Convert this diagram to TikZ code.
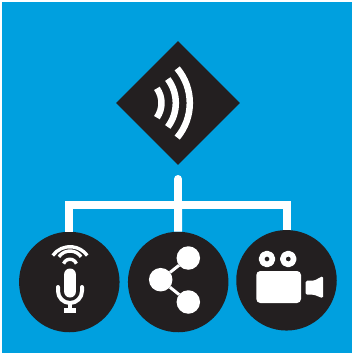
\documentclass[tikz,border=0pt]{standalone}
\usetikzlibrary{shapes.geometric}
\definecolor{skyblue}{HTML}{00A0DF}
\definecolor{inkdark}{HTML}{231F20}
\tikzset{
  disc/.style={circle,fill=inkdark,minimum size=100.5mm,inner sep=0pt},
  wire/.style={draw=white,line width=8mm,line join=miter},
  band/.style={draw=white,line width=6.5mm},
  thinband/.style={draw=white,line width=3.4mm},
  dot/.style={circle,fill=white,minimum size=23.5mm,inner sep=0pt},
  eye/.style={circle,fill=inkdark,draw=white,line width=5.6mm,minimum size=11mm,inner sep=0pt},
}
\begin{document}
\begin{tikzpicture}[x=1mm,y=-1mm,line join=round]
  \useasboundingbox (0,0) rectangle (352,354);
  \fill[skyblue] (2,1.5) rectangle (352,353);

  \node[diamond,fill=inkdark,minimum size=124mm,inner sep=0pt] (hub) at (178,103) {};
  \node[disc] (mic) at (69.3,282) {};
  \node[disc] (share) at (178.2,282) {};
  \node[disc] (video) at (286.5,280.3) {};

  \coordinate (trunk) at (178,179);
  \coordinate (bus) at (178,205);
  \draw[wire,line cap=round] (trunk) -- (bus);
  \draw[wire] (mic.north) -- (mic.north |- bus) -- (video.north |- bus) -- (video.north);
  \draw[wire] (bus) -- (share.north);

  \foreach \r/\a in {53.8/40,39.8/37,25.5/35}
    \draw[band] ([shift={(\a:\r)}]136,103) arc[start angle=-\a,end angle=\a,radius=\r mm];

  \draw[thinband] ([shift={(-90-54:21.3)}]70,268) arc[start angle=144,end angle=36,radius=21.3mm];
  \draw[thinband] ([shift={(-90-55:13.5)}]70,264.5) arc[start angle=145,end angle=35,radius=13.5mm];
  \draw[thinband] ([shift={(-90-70:6.8)}]70,266) arc[start angle=160,end angle=20,radius=6.8mm];
  \fill[white,rounded corners=5.8mm] (64.1,268.5) rectangle (75.9,297.5);
  \draw[white,line width=4mm,line cap=round] (58,287) -- (58,291) arc[start angle=180,end angle=360,radius=12mm] -- (82,287);
  \draw[white,line width=4.3mm] (70,303) -- (70,310);
  \fill[white] (64,308.3) rectangle (76,312.6);

  \node[dot] (shareleft) at (160.7,279.7) {};
  \node[dot] (sharetop) at (188.3,258) {};
  \node[dot] (sharebottom) at (188.3,302) {};
  \draw[white,line width=3mm] (shareleft) -- (sharetop);
  \draw[white,line width=3mm] (shareleft) -- (sharebottom);

  \node[eye] (eyeleft) at (267,259) {};
  \node[eye] (eyeright) at (288.3,259) {};
  \fill[white,rounded corners=4mm] (256.3,271) rectangle (301,303);
  \fill[white,rounded corners=1.5mm] (323,276) -- (314,280.7) -- (305.7,280.7) -- (305.7,294.7) -- (314,294.7) -- (323,298.3) -- cycle;
\end{tikzpicture}
\end{document}
